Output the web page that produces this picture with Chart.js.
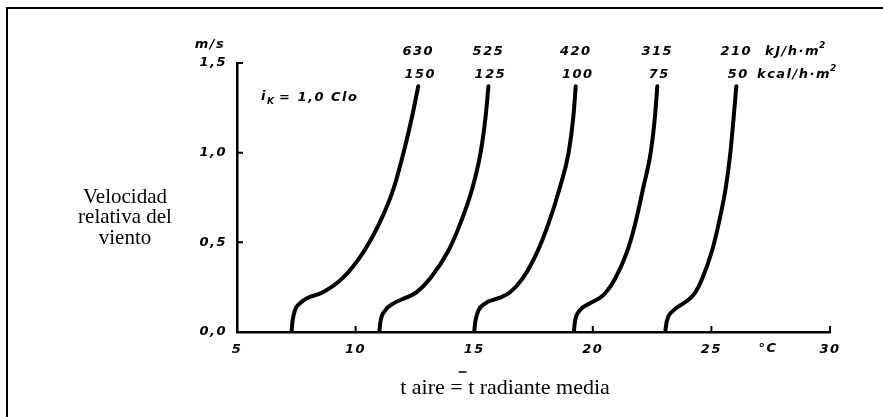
<!DOCTYPE html>
<html>
<head>
<meta charset="utf-8">
<script src="https://cdn.jsdelivr.net/npm/chart.js@4.4.1/dist/chart.umd.min.js"></script>
<style>
  html, body { margin: 0; padding: 0; background: #fff; }
  #wrap { width: 883px; height: 417px; position: relative; }
</style>
</head>
<body>
<div id="wrap"><canvas id="chart"></canvas></div>
<script>
// velocidad relativa del viento (m/s), misma para todas las curvas
const velocity = [0, 0.06, 0.12, 0.16, 0.19, 0.22, 0.3, 0.45, 0.6, 0.8, 1.0, 1.2, 1.37];

// t aire (°C) para cada nivel de actividad
const temp630 = [7.3, 7.34, 7.44, 7.65, 7.98, 8.6, 9.45, 10.35, 10.98, 11.6, 12.02, 12.38, 12.64];
const temp525 = [11.0, 11.05, 11.25, 11.6, 12.1, 12.55, 13.15, 13.9, 14.4, 14.92, 15.27, 15.48, 15.6];
const temp420 = [15.0, 15.05, 15.18, 15.47, 16.05, 16.5, 17.05, 17.67, 18.12, 18.6, 18.98, 19.18, 19.28];
const temp315 = [19.2, 19.25, 19.45, 19.88, 20.3, 20.55, 20.95, 21.45, 21.78, 22.12, 22.44, 22.62, 22.72];
const temp210 = [23.05, 23.12, 23.4, 23.82, 24.12, 24.32, 24.62, 25.02, 25.3, 25.6, 25.8, 25.94, 26.05];

const curves = [temp630, temp525, temp420, temp315, temp210];
const kjLabels = ['630', '525', '420', '315', '210'];
const kcalLabels = ['150', '125', '100', '75', '50'];

const xTicks = [5, 10, 15, 20, 25, 30];
const yTicks = [0, 0.5, 1.0, 1.5];

const sansFont = { family: '"DejaVu Sans"', size: 13, weight: 'bold', style: 'italic' };
const sansStr = 'italic bold 13px "DejaVu Sans"';
const supStr = 'italic bold 9px "DejaVu Sans"';

const datasets = curves.map((temps, i) => ({
  label: kjLabels[i],
  data: temps.map((t, j) => ({ x: t, y: velocity[j] })),
  showLine: true
}));

// textos, marco y marcas del dibujo original
const annotations = {
  id: 'annotations',
  beforeDraw(chart) {
    chart.ctx.letterSpacing = '1.5px';
  },
  afterDraw(chart) {
    const { ctx, chartArea: area, scales: { x, y } } = chart;
    ctx.save();
    ctx.strokeStyle = '#000';
    ctx.fillStyle = '#000';

    // marco
    ctx.lineWidth = 2;
    ctx.beginPath();
    ctx.moveTo(7, 417);
    ctx.lineTo(7, 8);
    ctx.lineTo(883, 8);
    ctx.stroke();

    // marcas de los ejes
    ctx.lineWidth = 2;
    ctx.beginPath();
    yTicks.slice(1).forEach(v => {
      const py = y.getPixelForValue(v);
      ctx.moveTo(area.left, py);
      ctx.lineTo(area.left + 6, py);
    });
    xTicks.slice(1).forEach(v => {
      const px = x.getPixelForValue(v);
      ctx.moveTo(px, area.bottom);
      ctx.lineTo(px, area.bottom - 6);
    });
    ctx.stroke();

    ctx.font = sansStr;
    ctx.letterSpacing = '1.5px';
    ctx.textBaseline = 'middle';
    ctx.textAlign = 'center';
    ctx.fillText('m/s', 210, 45);
    ctx.fillText('°C', 768, 349);

    // etiquetas de las curvas
    curves.forEach((temps, i) => {
      const px = x.getPixelForValue(temps[temps.length - 1]);
      ctx.fillText(kjLabels[i], px, 52);
      ctx.fillText(kcalLabels[i], px + 2, 75);
    });

    ctx.textAlign = 'left';
    ctx.fillText('kJ/h·m', 765, 52);
    ctx.fillText('kcal/h·m', 757, 75);
    const w1 = ctx.measureText('kJ/h·m').width;
    const w2 = ctx.measureText('kcal/h·m').width;
    ctx.font = supStr;
    ctx.fillText('2', 764 + w1, 46);
    ctx.fillText('2', 756 + w2, 69);

    // i_K = 1,0 Clo
    ctx.font = sansStr;
    ctx.fillText('i', 261, 97);
    ctx.font = supStr;
    ctx.fillText('K', 267, 102);
    ctx.font = sansStr;
    ctx.fillText('= 1,0 Clo', 279, 98);

    // textos en serif
    ctx.letterSpacing = '0px';
    ctx.font = '21px "Liberation Serif"';
    ctx.textAlign = 'center';
    ctx.fillText('Velocidad', 125, 197);
    ctx.fillText('relativa del', 125, 217);
    ctx.fillText('viento', 125, 238);

    ctx.font = '22px "Liberation Serif"';
    const title = 't aire = t radiante media';
    const tw = ctx.measureText(title).width;
    const left = 505 - tw / 2;
    ctx.textAlign = 'left';
    ctx.fillText(title, left, 388);
    const barX = left + ctx.measureText('t aire =').width;
    ctx.lineWidth = 1.5;
    ctx.beginPath();
    ctx.moveTo(barX - 4, 372);
    ctx.lineTo(barX + 4, 372);
    ctx.stroke();

    ctx.restore();
  }
};

new Chart(document.getElementById('chart'), {
  type: 'scatter',
  data: { datasets },
  options: {
    responsive: true,
    maintainAspectRatio: false,
    animation: false,
    layout: { padding: { left: 0, right: 53, top: 63, bottom: 0 } },
    plugins: { legend: { display: false }, tooltip: { enabled: false } },
    elements: {
      line: { borderColor: '#000', borderWidth: 4, cubicInterpolationMode: 'monotone', borderCapStyle: 'round', fill: false },
      point: { radius: 0, hoverRadius: 0 }
    },
    scales: {
      x: {
        type: 'linear',
        min: 5,
        max: 30,
        afterBuildTicks: s => { s.ticks = xTicks.map(v => ({ value: v })); },
        afterFit: s => { s.height = 85; },
        grid: { display: false, drawTicks: false },
        border: { display: true, color: '#000', width: 2.5 },
        ticks: { color: '#000', font: sansFont, padding: 10, maxRotation: 0, autoSkip: false }
      },
      y: {
        type: 'linear',
        min: 0,
        max: 1.5,
        afterBuildTicks: s => { s.ticks = yTicks.map(v => ({ value: v })); },
        afterFit: s => { s.width = 237; },
        grid: { display: false, drawTicks: false },
        border: { display: true, color: '#000', width: 2.5 },
        ticks: {
          color: '#000',
          font: sansFont,
          padding: 10,
          callback: v => v.toFixed(1).replace('.', ',')
        }
      }
    }
  },
  plugins: [annotations]
});
</script>
</body>
</html>
